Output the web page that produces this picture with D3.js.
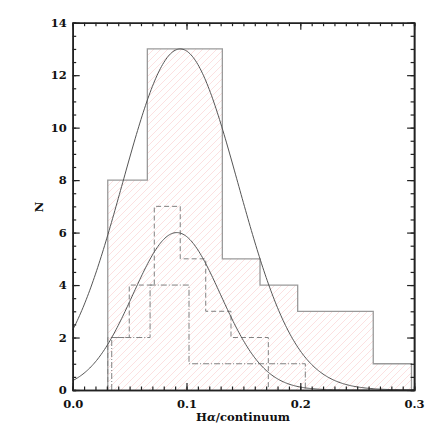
<!DOCTYPE html>
<html>
<head>
<meta charset="utf-8">
<script src="https://cdn.jsdelivr.net/npm/d3@7"></script>
<style>
  html, body { margin: 0; padding: 0; background: #fff; }
  text { font-family: "DejaVu Serif", "Liberation Serif", serif; font-weight: bold; fill: #111; }
</style>
</head>
<body>
<div id="chart"></div>
<script>
/** histogram bin edges and counts */
const allEdges = [0.0308, 0.0656, 0.0985, 0.1315, 0.1646, 0.1977, 0.2309, 0.2641, 0.2977];
const allCounts = [8, 13, 13, 5, 4, 3, 3, 1];

const dashEdges = [0.0308, 0.0497, 0.0717, 0.0945, 0.1169, 0.1391, 0.1719];
const dashCounts = [2, 4, 7, 5, 3, 2];

const dotEdges = [0.0343, 0.068, 0.1022, 0.1363, 0.1703, 0.2044];
const dotCounts = [2, 4, 1, 1, 1];

/** gaussian fits: amplitude, centre, sigma */
const fits = [
  { amp: 13, mu: 0.0945, sigma: 0.0507 },
  { amp: 6, mu: 0.0914, sigma: 0.0385 },
];

const xTicks = [0, 0.1, 0.2, 0.3];
const yTicks = [0, 2, 4, 6, 8, 10, 12, 14];

const width = 436, height = 436;
const plotLeft = 72.7, plotRight = 414.1, plotTop = 22.7, plotBottom = 390;

const svg = d3.select("#chart").append("svg")
  .attr("width", width).attr("height", height);

const x = d3.scaleLinear().domain([0, 0.3]).range([plotLeft, plotRight]);
const y = d3.scaleLinear().domain([0, 14]).range([plotBottom, plotTop]);

/** hatch pattern */
const defs = svg.append("defs");
const pat = defs.append("pattern")
  .attr("id", "hatch")
  .attr("patternUnits", "userSpaceOnUse")
  .attr("width", 7).attr("height", 7);
pat.append("path")
  .attr("d", "M0,7 L7,0 M-1,1 L1,-1 M6,8 L8,6")
  .attr("stroke", "#fbd9d9")
  .attr("stroke-width", 0.8);

/** step outline of a histogram */
const stepPoints = (edges, counts) => {
  const pts = [[edges[0], 0]];
  counts.forEach((c, i) => {
    pts.push([edges[i], c]);
    pts.push([edges[i + 1], c]);
  });
  pts.push([edges[edges.length - 1], 0]);
  return pts;
};
const line = d3.line().x((d) => x(d[0])).y((d) => y(d[1]));

/** filled main histogram */
svg.append("path")
  .attr("d", line(stepPoints(allEdges, allCounts)) + "Z")
  .attr("fill", "url(#hatch)")
  .attr("stroke", "none");

svg.append("path")
  .attr("d", line(stepPoints(allEdges, allCounts)))
  .attr("fill", "none")
  .attr("stroke", "#9a9a9a")
  .attr("stroke-width", 1.3);

svg.append("path")
  .attr("d", line(stepPoints(dashEdges, dashCounts)))
  .attr("fill", "none")
  .attr("stroke", "#808080")
  .attr("stroke-width", 1)
  .attr("stroke-dasharray", "5,3");

svg.append("path")
  .attr("d", line(stepPoints(dotEdges, dotCounts)))
  .attr("fill", "none")
  .attr("stroke", "#808080")
  .attr("stroke-width", 1)
  .attr("stroke-dasharray", "6,2,1,2");

/** fitted gaussians */
const xs = d3.range(0, 0.3001, 0.001);
for (const { amp, mu, sigma } of fits) {
  const pts = xs.map((v) => [v, amp * Math.exp(-((v - mu) ** 2) / (2 * sigma * sigma))]);
  svg.append("path")
    .attr("d", line(pts))
    .attr("fill", "none")
    .attr("stroke", "#555")
    .attr("stroke-width", 1);
}

/** axes with inward ticks on all four sides */
const xMinor = d3.range(0, 0.3001, 0.01);
const yMinor = d3.range(0, 14.001, 0.5);
const style = (g) => {
  g.select(".domain").attr("stroke", "#222").attr("stroke-width", 1.6);
  g.selectAll(".tick line").attr("stroke", "#222").attr("stroke-width", 1.2);
};

const axisSet = (axisFn, scale, major, minor, transform, labels, pad) => {
  svg.append("g").attr("transform", transform)
    .call(axisFn(scale).tickValues(minor).tickSize(-3.5).tickFormat(""))
    .call(style);
  const g = svg.append("g").attr("transform", transform)
    .call(axisFn(scale).tickValues(major).tickSizeInner(-7).tickSizeOuter(0)
      .tickPadding(pad || 0)
      .tickFormat(labels || ""))
    .call(style);
  g.selectAll("text").attr("font-size", 11.5).attr("fill", "#111");
  return g;
};

axisSet(d3.axisBottom, x, xTicks, xMinor, `translate(0,${plotBottom})`, d3.format(".1f"), 10);
axisSet(d3.axisTop, x, xTicks, xMinor, `translate(0,${plotTop})`, null);
axisSet(d3.axisLeft, y, yTicks, yMinor, `translate(${plotLeft},0)`, d3.format("d"), 6);
axisSet(d3.axisRight, y, yTicks, yMinor, `translate(${plotRight},0)`, null);

/** axis titles */
const xl = svg.append("text")
  .attr("x", 243).attr("y", 421)
  .attr("text-anchor", "middle")
  .attr("font-size", 11.5);
xl.append("tspan").text("H");
xl.append("tspan").attr("font-style", "italic").text("α");
xl.append("tspan").text("/continuum");

svg.append("text")
  .attr("transform", "translate(43,207) rotate(-90)")
  .attr("text-anchor", "middle")
  .attr("font-size", 11.5)
  .text("N");
</script>
</body>
</html>
